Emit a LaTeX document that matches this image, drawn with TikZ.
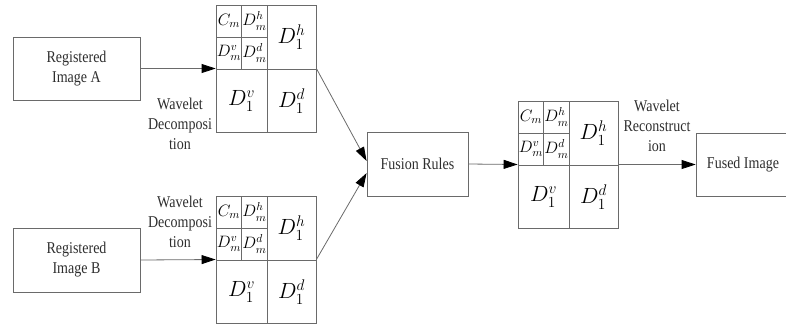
\documentclass[tikz,border=0pt]{standalone}
\usepackage{fix-cm}
\usepackage{fontspec}
\setmainfont{Liberation Serif}[FakeStretch=0.85]
\usetikzlibrary{arrows.meta,calc}
\definecolor{linegray}{HTML}{6A6A6A}
\definecolor{textgray}{HTML}{2E2E2E}
\newcommand\lblfont{\fontsize{16.5}{20}\selectfont}
\newcommand\bigco{\fontsize{22}{24}\selectfont}
\newcommand\smallco{\fontsize{16.5}{18}\selectfont}
\tikzset{
  frame/.style={draw=linegray, line width=0.8pt, inner sep=0pt, text=textgray, align=center, font=\lblfont},
  gridbox/.style={draw=linegray, line width=0.8pt, minimum width=100pt, minimum height=127pt, inner sep=0pt},
  gridline/.style={draw=linegray, line width=0.8pt},
  bigcell/.style={text=black, font=\bigco, inner sep=0pt},
  smallcell/.style={text=black, font=\smallco, inner sep=0pt},
  lbl/.style={text=textgray, align=center, font=\lblfont, inner sep=0pt},
  conn/.style={draw=linegray, line width=0.8pt, -{Triangle[length=14pt,width=9pt,color=black]}}
}
\newcommand\coeffgrid[3]{%
  \begin{scope}[shift={(#2,#3)}]
    \node[gridbox] (#1) at (50,63.5) {};
    \draw[gridline] (0,64) -- (100,64) (51,0) -- (51,127)
      (25.5,0) -- (25.5,64) (0,32) -- (51,32);
    \node[smallcell] at (13,16) {$C_m$};
    \node[smallcell] at (38.5,16) {$D_m^h$};
    \node[smallcell] at (13,48) {$D_m^v$};
    \node[smallcell] at (38.5,48) {$D_m^d$};
    \node[bigcell] at (75.5,32) {$D_1^h$};
    \node[bigcell] at (25.5,96) {$D_1^v$};
    \node[bigcell] at (75.5,96) {$D_1^d$};
  \end{scope}}
\begin{document}
\begin{tikzpicture}[x=1pt,y=-1pt]
  \useasboundingbox (0,0) rectangle (786,325);
  \clip (0,0) rectangle (786,325);
  % input images
  \node[frame, minimum width=127pt, minimum height=63pt] (imA) at (76.5,68.5) {Registered\\Image A};
  \node[frame, minimum width=127pt, minimum height=64pt] (imB) at (76.5,260) {Registered\\Image B};
  % coefficient grids
  \coeffgrid{gA}{216}{5}
  \coeffgrid{gB}{216}{196}
  \coeffgrid{gC}{518}{101}
  % fusion and output
  \node[frame, minimum width=101pt, minimum height=64pt] (fus) at (417.5,164) {Fusion Rules};
  \node[frame, minimum width=94pt, minimum height=63pt] (out) at (743,164.5) {Fused Image};
  % connectors
  \draw[conn] (imA.east) -- (gA.west);
  \draw[conn] (imB.east) -- (gB.west);
  \draw[conn] (gA.east) -- ($(fus.west)+(0,-3)$);
  \draw[conn] (gB.east) -- ($(fus.west)+(0,9)$);
  \draw[conn] (fus.east) -- (gC.west);
  \draw[conn] (gC.east) -- (out.west);
  % labels
  \node[lbl] (lA) at (180,124) {Wavelet\\Decomposi\\tion};
  \node[lbl] (lB) at (180,222) {Wavelet\\Decomposi\\tion};
  \node[lbl] (lC) at (657,126) {Wavelet\\Reconstruct\\ion};
\end{tikzpicture}
\end{document}
